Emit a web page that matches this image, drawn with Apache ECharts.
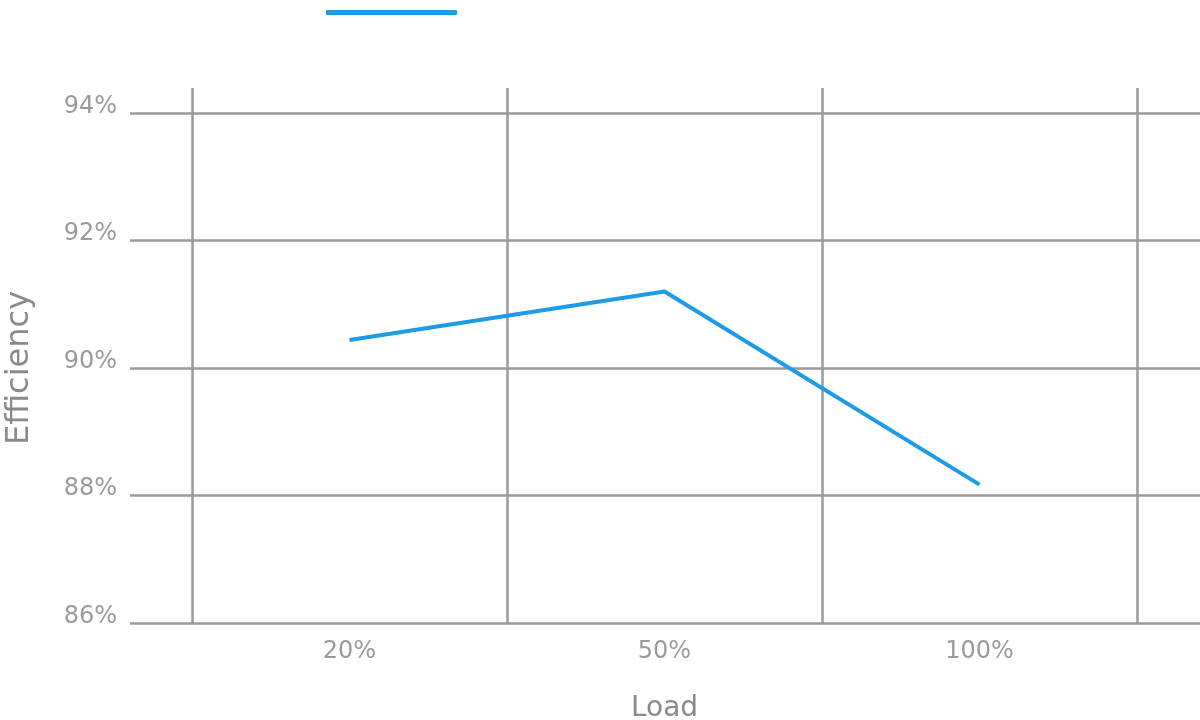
<!DOCTYPE html>
<html>
<head>
<meta charset="utf-8">
<script src="https://cdn.jsdelivr.net/npm/echarts@6/dist/echarts.min.js"></script>
<style>html,body{margin:0;padding:0;background:#fff}#c{width:1200px;height:720px}</style>
</head>
<body>
<div id="c"></div>
<script>
const categories = ['20%', '50%', '100%'];
const efficiency = [90.44, 91.2, 88.17];
const yTicks = [86, 88, 90, 92, 94];
const seriesName = 'Efficiency';

const gridColor = '#9a9a9a';
const textColor = '#9a9a9a';
const font = 'DejaVu Sans';

const chart = echarts.init(document.getElementById('c'), null, {renderer: 'canvas'});
chart.setOption({
  animation: false,
  legend: {
    left: 321, top: 5,
    itemWidth: 131, itemHeight: 5,
    icon: 'roundRect',
    formatter: () => '',
    data: [seriesName]
  },
  grid: [
    {left: 130, right: 0, top: 113, bottom: 97, containLabel: false, outerBoundsMode: 'none'},
    {left: 192, right: 63, top: 88, bottom: 97, containLabel: false, outerBoundsMode: 'none'}
  ],
  xAxis: [
    {gridIndex: 0, type: 'value', min: 0, max: 1, show: false},
    {
      gridIndex: 1, type: 'category', data: categories, boundaryGap: true,
      axisLine: {show: false}, axisTick: {show: false},
      splitLine: {show: true, lineStyle: {color: gridColor, width: 2.5}},
      axisLabel: {color: textColor, fontFamily: font, fontSize: 24, margin: 17},
      name: 'Load', nameLocation: 'middle', nameGap: 72,
      nameTextStyle: {color: '#8a8a8a', fontFamily: font, fontSize: 28}
    }
  ],
  yAxis: [
    {
      gridIndex: 0, type: 'value', min: yTicks[0], max: yTicks[yTicks.length - 1], interval: 2,
      axisLine: {show: false}, axisTick: {show: false},
      splitLine: {show: true, lineStyle: {color: gridColor, width: 2.5}},
      axisLabel: {color: textColor, fontFamily: font, fontSize: 24, margin: 13,
        formatter: '{value}%', verticalAlign: 'bottom', lineHeight: 13},
      name: 'Efficiency', nameLocation: 'middle', nameGap: 94, nameRotate: 90,
      nameTextStyle: {color: '#8a8a8a', fontFamily: font, fontSize: 32}
    },
    {
      gridIndex: 1, type: 'value', min: 86, max: 94 + 25 / 63.75, show: false
    }
  ],
  series: [{
    name: seriesName, type: 'line', xAxisIndex: 1, yAxisIndex: 1,
    data: efficiency, symbol: 'none',
    lineStyle: {color: '#1c9be6', width: 4},
    itemStyle: {color: '#1c9be6'}
  }]
});
</script>
</body>
</html>
